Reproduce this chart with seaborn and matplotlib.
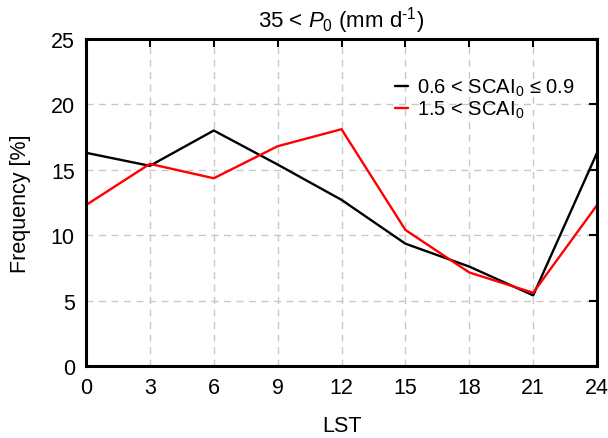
import matplotlib
matplotlib.use("Agg")
import matplotlib.pyplot as plt
import seaborn as sns
import pandas as pd

lst = [0, 3, 6, 9, 12, 15, 18, 21, 24]
low_scai = [16.3, 15.3, 18.0, 15.4, 12.7, 9.35, 7.6, 5.4, 16.3]
high_scai = [12.3, 15.45, 14.35, 16.8, 18.1, 10.4, 7.15, 5.6, 12.3]
series_names = ["0.6 < SCAI$_0$ ≤ 0.9", "1.5 < SCAI$_0$"]
series_colors = ["black", "red"]

sns.set_theme(style="white")
plt.rcParams['font.family'] = ['Liberation Sans', 'DejaVu Sans']
plt.rcParams['mathtext.fontset'] = 'custom'
plt.rcParams['mathtext.rm'] = 'Liberation Sans'
plt.rcParams['mathtext.it'] = 'Liberation Sans:italic'
plt.rcParams['mathtext.bf'] = 'Liberation Sans:bold'
plt.rcParams['text.color'] = 'black'
plt.rcParams['axes.labelcolor'] = 'black'

df = pd.DataFrame({
    "LST": lst * 2,
    "Frequency": low_scai + high_scai,
    "series": [series_names[0]] * len(lst) + [series_names[1]] * len(lst),
})

fig = plt.figure(figsize=(6.08, 4.39), dpi=100)
ax = fig.add_axes([0.1414, 0.164, 0.8406, 0.745])
sns.lineplot(data=df, x="LST", y="Frequency", hue="series",
             palette=dict(zip(series_names, series_colors)), linewidth=1.7, ax=ax)

ax.set_xlim(0, 24)
ax.set_ylim(0, 25)
ax.set_xticks(range(0, 25, 3))
ax.set_yticks(range(0, 26, 5))
ax.grid(True, color="#c8c8c8", linestyle=(0, (5, 4)), linewidth=1.0)
for s in ax.spines.values():
    s.set_linewidth(2.2)
    s.set_color("black")
ax.tick_params(direction="in", length=6, width=1.5, top=True, right=True,
               labelsize=15.5, colors="black")
ax.tick_params(axis="x", pad=8)
ax.tick_params(axis="y", pad=8)
ax.set_xlabel("LST", fontsize=15.5, labelpad=12, color="black")
ax.set_ylabel("Frequency [%]", fontsize=15.5, labelpad=14, color="black")
ax.set_title("35 < $P_0$ (mm d$^{\\text{-}1}$)", fontsize=16, pad=9, color="black")
leg = ax.legend(frameon=False, fontsize=14.5, loc="upper left",
                bbox_to_anchor=(0.605, 0.885), borderaxespad=0, borderpad=0,
                handlelength=0.65, handletextpad=0.45, labelspacing=0.05)
for t in leg.get_texts():
    t.set_color("black")

fig.savefig("out.png", dpi=100)
